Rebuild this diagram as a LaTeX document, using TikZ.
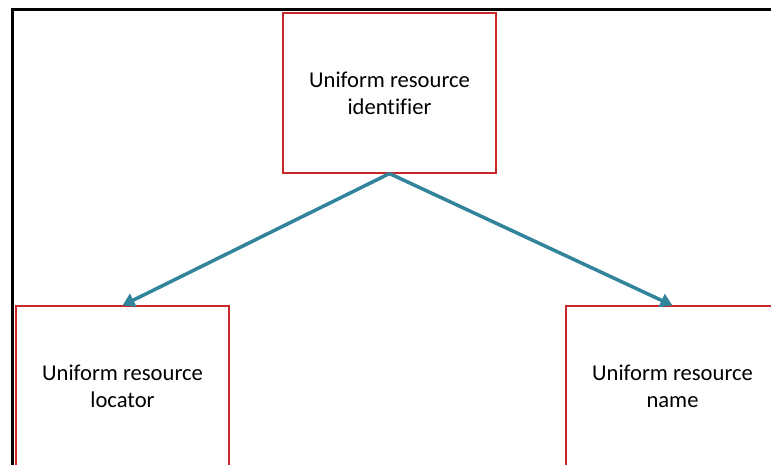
\documentclass[tikz,border=0pt]{standalone}
\usepackage{fontspec}
\setmainfont[Ligatures=NoCommon]{Carlito}
\usetikzlibrary{arrows.meta}
\definecolor{boxred}{RGB}{200,40,40}
\definecolor{linkteal}{RGB}{49,132,155}
\tikzset{
  termbox/.style={draw=boxred, line width=1.1pt, fill=white, rectangle,
    minimum width=213pt, minimum height=160pt, align=center,
    font=\fontsize{22.6}{27}\selectfont, inner sep=0pt},
  link/.style={draw=linkteal, line width=3.5pt,
    -{Triangle[length=12pt,width=14pt]}},
  frame/.style={draw=black, line width=3.2pt}
}
\begin{document}
\begin{tikzpicture}[x=1pt,y=-1pt]
  \path[use as bounding box, clip] (0,0) rectangle (771,464);
  % outer frame (top and left edges visible)
  \coordinate (fa) at (12.5,800);
  \coordinate (fb) at (12.5,9.5);
  \coordinate (fc) at (900,9.5);
  \draw[frame] (fa) -- (fb) -- (fc);
  % terms
  \node[termbox] (uri) at (389.5,93) {Uniform resource\\identifier};
  \node[termbox] (url) at (122.5,386) {Uniform resource\\locator};
  \node[termbox] (urn) at (672.5,386) {Uniform resource\\name};
  % connectors
  \draw[link] (uri.south) -- (url.north);
  \draw[link] (uri.south) -- (urn.north);
\end{tikzpicture}
\end{document}
